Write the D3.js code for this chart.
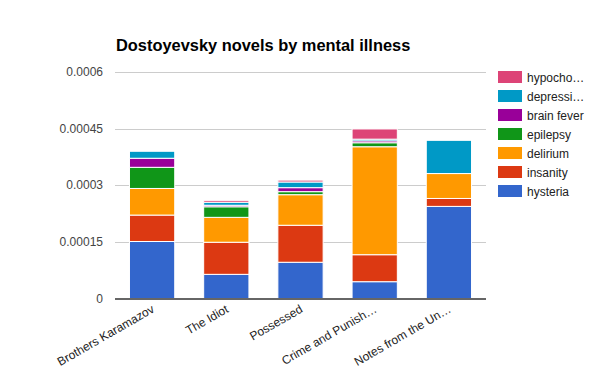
<!DOCTYPE html>
<html><head><meta charset="utf-8">
<script src="https://cdn.jsdelivr.net/npm/d3@7"></script>
<style>body{margin:0;background:#fff;} text{font-family:Arial,"Liberation Sans",sans-serif;}</style>
</head><body>
<svg id="c" width="600" height="371"></svg>
<script>
const categories = ["Brothers Karamazov","The Idiot","Possessed","Crime and Punish…","Notes from the Un…"];
const seriesNames = ["hysteria","insanity","delirium","epilepsy","brain fever","depression","hypochondria"];
const legendLabels = ["hysteria","insanity","delirium","epilepsy","brain fever","depressi…","hypocho…"];
const colors = ["#3366cc","#dc3912","#ff9900","#109618","#990099","#0099c6","#dd4477"];
const hysteria     = [0.000151, 0.000064, 0.000096, 0.0000445, 0.000244];
const insanity     = [0.000070, 0.000085, 0.000098, 0.0000715, 0.000021];
const delirium     = [0.0000705,0.000066, 0.000081, 0.000286,  0.000066];
const epilepsy     = [0.000056, 0.000028, 0.000008, 0.0000106, 0];
const brainFever   = [0.000024, 0.000004, 0.0000106,0.000005,  0];
const depression   = [0.0000185,0.000008, 0.000015, 0.0000045, 0.000088];
const hypochondria = [0,        0.000005, 0.000005, 0.000027,  0];
const yTicks = [0, 0.00015, 0.0003, 0.00045, 0.0006];
const yTickLabels = ["0","0.00015","0.0003","0.00045","0.0006"];

const seriesValues = [hysteria, insanity, delirium, epilepsy, brainFever, depression, hypochondria];
const rows = categories.map((c,i)=>{const r={cat:c}; seriesNames.forEach((s,j)=>r[s]=seriesValues[j][i]); return r;});
const stack = d3.stack().keys(seriesNames)(rows);

const svg = d3.select("#c");
const m = {l:115, r:486, t:72, b:298.5};
const x = d3.scaleBand().domain(categories).range([m.l, m.r]).paddingInner(0.39).paddingOuter(0.195);
const y = d3.scaleLinear().domain([0,0.0006]).range([m.b, m.t]);

svg.append("text").attr("x",116).attr("y",51).attr("font-size",16.4).attr("font-weight","bold").attr("fill","#000")
  .text("Dostoyevsky novels by mental illness");

const grid = svg.append("g");
grid.selectAll("line").data(yTicks.slice(1)).join("line")
  .attr("x1",m.l).attr("x2",m.r).attr("y1",d=>Math.round(y(d))+0.5).attr("y2",d=>Math.round(y(d))+0.5)
  .attr("stroke","#cccccc").attr("stroke-width",1);

svg.append("g").selectAll("text").data(yTicks).join("text")
  .attr("x",103).attr("y",d=>y(d)+4).attr("text-anchor","end").attr("font-size",12).attr("fill","#444")
  .text((d,i)=>yTickLabels[i]);

svg.append("g").selectAll("g").data(stack).join("g").attr("fill",(d,i)=>colors[i])
  .selectAll("rect").data(d=>d.filter(p=>p[1]-p[0]>0)).join("rect")
  .attr("x",d=>x(d.data.cat)).attr("width",x.bandwidth())
  .attr("y",d=>y(d[1])).attr("height",d=>y(d[0])-y(d[1]))
  .attr("stroke","#fff").attr("stroke-width",1);

svg.append("line").attr("x1",m.l).attr("x2",m.r).attr("y1",m.b+0.5).attr("y2",m.b+0.5)
  .attr("stroke","#333").attr("stroke-width",1.5);

svg.append("g").selectAll("text").data(categories).join("text")
  .attr("transform",d=>`translate(${x(d)+x.bandwidth()/2+3},${m.b+13}) rotate(-30)`)
  .attr("text-anchor","end").attr("font-size",12).attr("fill","#222").text(d=>d);

const lg = svg.append("g");
const order = d3.range(seriesNames.length).reverse();
order.forEach((j,k)=>{
  const yy = 71 + k*19;
  lg.append("rect").attr("x",498).attr("y",yy).attr("width",24).attr("height",12).attr("fill",colors[j]);
  lg.append("text").attr("x",527).attr("y",yy+11).attr("font-size",12).attr("fill","#222").text(legendLabels[j]);
});
</script>
</body></html>
